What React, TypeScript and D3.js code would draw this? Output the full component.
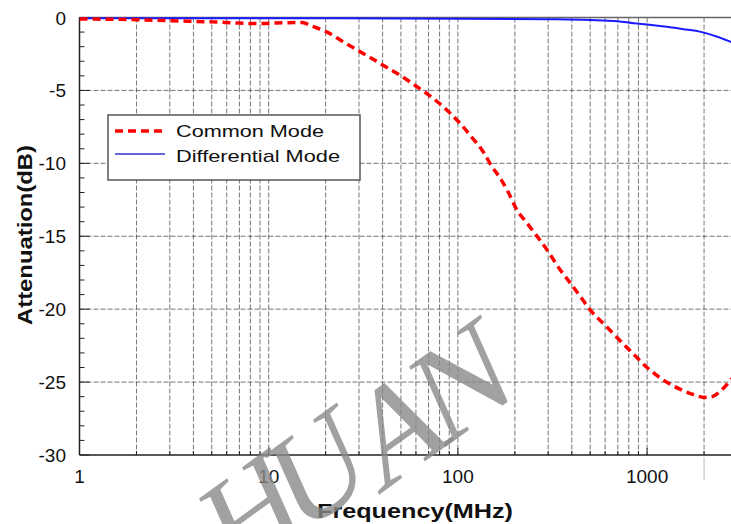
import React from "react";
import * as d3 from "d3";

const freqCM = [1, 2, 3, 5, 7, 9, 12, 15, 17, 20, 25, 30, 40, 50, 60, 70, 80, 100, 120, 136, 151, 167, 184, 205, 232, 262, 300, 347, 392, 442, 500, 600, 700, 850, 1000, 1200, 1500, 1800, 2000, 2200, 2450, 2750, 3000];
const attCM = [-0.1, -0.15, -0.22, -0.3, -0.38, -0.42, -0.36, -0.35, -0.6, -0.95, -1.7, -2.3, -3.25, -4.0, -4.7, -5.3, -5.9, -7.1, -8.3, -9.2, -10.2, -11.0, -11.95, -13.2, -14.1, -15.0, -16.05, -17.3, -18.2, -19.1, -20.05, -21.1, -22.0, -23.1, -24.0, -24.8, -25.5, -25.9, -26.05, -26.0, -25.6, -24.9, -24.3];

const freqDM = [1, 10, 100, 300, 500, 700, 850, 1000, 1300, 1600, 1900, 2350, 2750, 3000];
const attDM = [-0.05, -0.05, -0.08, -0.12, -0.17, -0.25, -0.4, -0.48, -0.65, -0.82, -0.97, -1.32, -1.66, -1.9];

const yTicks = [0, -5, -10, -15, -20, -25, -30];
const xTickLabels = [1, 10, 100, 1000];
const legendLabels = ["Common Mode", "Differential Mode"];
const watermark = ["H", "U", "A", "N"];

const W = 731;
const H = 524;

export default function App() {
  const x = d3.scaleLog().domain([1, 3000]).range([79.5, 79.5 + 189.2 * Math.log10(3000)]);
  const y = d3.scaleLinear().domain([-30, 0]).range([455, 17.5]);
  const left = 79.5;
  const right = W;

  const gridFreqs: number[] = [];
  for (let d = 1; d <= 1000; d *= 10) {
    for (let k = 1; k <= 9; k++) {
      const f = d * k;
      if (f > 1 && f <= 3000) gridFreqs.push(f);
    }
  }
  const minorY = d3.range(-30, 1, 1);

  const lineGen = d3
    .line<[number, number]>()
    .x((d) => x(d[0]))
    .y((d) => y(d[1]))
    .curve(d3.curveMonotoneX);

  const cm = lineGen(freqCM.map((f, i) => [f, attCM[i]] as [number, number])) || "";
  const dm = lineGen(freqDM.map((f, i) => [f, attDM[i]] as [number, number])) || "";

  const font = "'Liberation Sans', Arial, sans-serif";
  const wmPos = [
    [252, 512],
    [318, 468],
    [398, 426],
    [462, 380],
  ];

  return (
    <div style={{ position: "absolute", left: 0, top: 0 }}>
      <svg width={W} height={H} style={{ display: "block", background: "#fff" }}>
        <defs>
          <clipPath id="plot">
            <rect x={left} y={5} width={right - left} height={455} />
          </clipPath>
        </defs>
        {/* grid */}
        {gridFreqs.map((f) => (
          <line key={"gv" + f} x1={x(f)} x2={x(f)} y1={y(0)} y2={y(-30)} stroke="#333" strokeWidth={0.9} strokeDasharray="5,2" opacity={0.75} />
        ))}
        {yTicks.filter((t) => t !== 0 && t !== -30).map((t) => (
          <line key={"gh" + t} x1={left} x2={right} y1={y(t)} y2={y(t)} stroke="#333" strokeWidth={0.9} strokeDasharray="5,2" opacity={0.75} />
        ))}
        {/* top line */}
        <line x1={left} x2={right} y1={y(0)} y2={y(0)} stroke="#666" strokeWidth={1.5} />
        {/* axes */}
        <line x1={left} x2={right} y1={y(-30)} y2={y(-30)} stroke="#222" strokeWidth={1.5} />
        <line x1={left} x2={left} y1={y(0)} y2={y(-30)} stroke="#222" strokeWidth={1.5} />
        {minorY.map((t) => (
          <line key={"my" + t} x1={left} x2={left + (t % 5 === 0 ? 10 : 5)} y1={y(t)} y2={y(t)} stroke="#222" strokeWidth={1} />
        ))}
        {gridFreqs.map((f) => (
          <line key={"mx" + f} x1={x(f)} x2={x(f)} y1={y(-30)} y2={y(-30) - ([10, 100, 1000].includes(f) ? 7 : 4)} stroke="#222" strokeWidth={1} />
        ))}
        <line x1={x(2000)} x2={x(2000)} y1={y(-30) + 2} y2={y(-30) + 25} stroke="#bbb" strokeWidth={1} />
        {/* tick labels */}
        {yTicks.map((t) => (
          <text key={"yl" + t} x={66} y={y(t) + 7} textAnchor="end" fontFamily={font} fontSize={19} fill="#111">
            {t}
          </text>
        ))}
        {xTickLabels.map((t) => (
          <text key={"xl" + t} x={x(t)} y={483} textAnchor="middle" fontFamily={font} fontSize={19} fill="#111">
            {t}
          </text>
        ))}
        <text x={415} y={518} textAnchor="middle" fontFamily={font} fontSize={21} fontWeight="bold" fill="#111" textLength={196} lengthAdjust="spacingAndGlyphs">
          Frequency(MHz)
        </text>
        <text transform="translate(32,235) rotate(-90)" textAnchor="middle" fontFamily={font} fontSize={20} fontWeight="bold" fill="#111" textLength={180} lengthAdjust="spacingAndGlyphs">
          Attenuation(dB)
        </text>
        {/* series */}
        <g clipPath="url(#plot)">
          <path d={dm} fill="none" stroke="#1a1aff" strokeWidth={2} />
          <path d={cm} fill="none" stroke="#ff0000" strokeWidth={3.5} strokeDasharray="8,5" />
        </g>
        {/* legend */}
        <rect x={108} y={115} width={252} height={65} fill="#fff" stroke="#555" strokeWidth={1.5} />
        <line x1={115} x2={163} y1={131} y2={131} stroke="#ff0000" strokeWidth={3.5} strokeDasharray="8,5" />
        <line x1={115} x2={165} y1={154} y2={154} stroke="#3333cc" strokeWidth={1.5} />
        <text x={176} y={137} fontFamily={font} fontSize={17} fill="#111" textLength={148} lengthAdjust="spacingAndGlyphs">
          {legendLabels[0]}
        </text>
        <text x={176} y={162} fontFamily={font} fontSize={17} fill="#111" textLength={164} lengthAdjust="spacingAndGlyphs">
          {legendLabels[1]}
        </text>
        {/* watermark */}
        {watermark.map((ch, i) => (
          <text
            key={"wm" + i}
            transform={`translate(${wmPos[i][0]},${wmPos[i][1]}) rotate(-36) skewX(-12)`}
            textAnchor="middle"
            dominantBaseline="central"
            fontFamily="'Liberation Serif', 'Times New Roman', serif"
            fontSize={132}
            fill="#8a8a8a"
            opacity={0.8}
          >
            {ch}
          </text>
        ))}
      </svg>
    </div>
  );
}
